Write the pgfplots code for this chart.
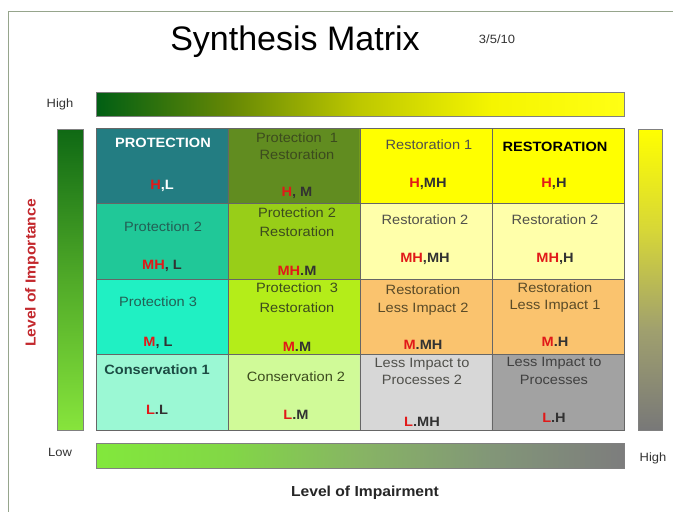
\documentclass[border=0pt]{standalone}
\usepackage{pgfplots}
\pgfplotsset{compat=1.18}
\usepackage{fontspec}
\setmainfont{Liberation Sans}
\newfontfamily\cellfont[FakeStretch=1.08]{Liberation Sans}
\newcommand{\fs}[1]{\fontsize{#1}{#1}\selectfont}
\definecolor{cred}{RGB}{225,25,25}
\definecolor{cdark}{RGB}{50,50,50}
\definecolor{tolive}{RGB}{60,75,30}
\definecolor{tteal}{RGB}{35,95,85}
\definecolor{tgray}{RGB}{80,80,75}
\definecolor{tbrown}{RGB}{90,75,40}
\definecolor{framec}{RGB}{150,165,140}
\definecolor{axred}{RGB}{195,40,45}
\newcommand{\code}[2]{\textcolor{cred}{#1}#2}
\begin{document}
\begin{tikzpicture}[x=1pt,y=1pt]
\fill[white] (0,0) rectangle (673,-512);
\draw[framec, line width=0.8pt] (8,-512) -- (8,-11) -- (673,-11);

\pgfplotsset{gbar/.style={scale only axis, anchor=south west,
  xmin=0, xmax=1, ymin=0, ymax=1, xtick=\empty, ytick=\empty,
  axis line style={draw=black!50, line width=0.6pt}, axis on top,
  point meta min=0, point meta max=1}}

% top gradient bar (horizontal)
\begin{axis}[gbar, at={(96pt,-116pt)}, width=528pt, height=24pt,
  colormap={topg}{rgb255=(0,95,20) rgb255=(100,135,5) rgb255=(190,200,0) rgb255=(245,245,0) rgb255=(255,255,20)}]
\addplot[patch, shader=interp, point meta=explicit] table[meta=c] {
x y c
0 0 0
1 0 1
1 1 1
0 0 0
1 1 1
0 1 0
};
\end{axis}

% bottom gradient bar (horizontal)
\begin{axis}[gbar, at={(96pt,-468pt)}, width=528pt, height=25pt,
  colormap={botg}{rgb255=(130,232,60) rgb255=(130,215,70) rgb255=(135,180,100) rgb255=(130,150,120) rgb255=(125,125,125)}]
\addplot[patch, shader=interp, point meta=explicit] table[meta=c] {
x y c
0 0 0
1 0 1
1 1 1
0 0 0
1 1 1
0 1 0
};
\end{axis}

% left gradient bar (vertical)
\begin{axis}[gbar, at={(57pt,-430pt)}, width=26pt, height=301pt,
  colormap={leftg}{rgb255=(135,228,60) rgb255=(80,170,40) rgb255=(15,105,20)}]
\addplot[patch, shader=interp, point meta=explicit] table[meta=c] {
x y c
0 0 0
1 0 0
1 1 1
0 0 0
1 1 1
0 1 1
};
\end{axis}

% right gradient bar (vertical)
\begin{axis}[gbar, at={(638pt,-430pt)}, width=24pt, height=301pt,
  colormap={rightg}{rgb255=(120,120,120) rgb255=(160,160,110) rgb255=(215,215,55) rgb255=(255,255,0)}]
\addplot[patch, shader=interp, point meta=explicit] table[meta=c] {
x y c
0 0 0
1 0 0
1 1 1
0 0 0
1 1 1
0 1 1
};
\end{axis}

% main matrix
\begin{axis}[scale only axis, anchor=south west, at={(96pt,-430pt)},
  width=528pt, height=302pt, xmin=0, xmax=4, ymin=0, ymax=4,
  xtick={1,2,3}, ytick={1,2,3}, xticklabels={}, yticklabels={},
  major tick length=0pt, grid=major,
  grid style={draw=black!60, line width=0.8pt},
  axis line style={draw=black!60, line width=0.8pt}, axis on top,
  colormap={cells}{
    rgb255=(35,125,130) rgb255=(97,140,32) rgb255=(255,255,0) rgb255=(255,255,0)
    rgb255=(32,200,152) rgb255=(152,206,24) rgb255=(255,255,170) rgb255=(255,255,170)
    rgb255=(32,240,195) rgb255=(180,237,25) rgb255=(250,195,110) rgb255=(250,195,110)
    rgb255=(155,248,212) rgb255=(208,250,152) rgb255=(215,215,215) rgb255=(162,162,162)}]
\addplot[matrix plot*, mesh/cols=4, point meta=explicit, colormap access=direct] table[meta=c] {
x y c
0.5 0.5 12
1.5 0.5 13
2.5 0.5 14
3.5 0.5 15
0.5 1.5 8
1.5 1.5 9
2.5 1.5 10
3.5 1.5 11
0.5 2.5 4
1.5 2.5 5
2.5 2.5 6
3.5 2.5 7
0.5 3.5 0
1.5 3.5 1
2.5 3.5 2
3.5 3.5 3
};
\end{axis}

\tikzset{ctext/.style={anchor=base, yshift=-4.8pt, inner sep=0pt, font=\cellfont\fs{13.5}},
         btext/.style={anchor=base, yshift=-4.8pt, inner sep=0pt, font=\cellfont\bfseries\fs{13.5}}}

% row 1
\node[btext, text=white] at (163,-143) {PROTECTION};
\node[btext, text=white] at (162,-185) {\code{H}{,L}};
\node[ctext, text=tolive] at (297,-138) {Protection\ \ 1};
\node[ctext, text=tolive] at (297,-155) {Restoration};
\node[btext, text=cdark] at (297,-192) {\code{H}{, M}};
\node[ctext, text=tgray] at (429,-145) {Restoration 1};
\node[btext, text=cdark] at (428,-183) {\code{H}{,MH}};
\node[btext, text=black] at (555,-147) {RESTORATION};
\node[btext, text=cdark] at (554,-183) {\code{H}{,H}};
% row 2
\node[ctext, text=tteal] at (163,-227) {Protection 2};
\node[btext, text=cdark] at (162,-265) {\code{MH}{, L}};
\node[ctext, text=tolive] at (297,-213) {Protection 2};
\node[ctext, text=tolive] at (297,-232) {Restoration};
\node[btext, text=cdark] at (297,-271) {\code{MH}{.M}};
\node[ctext, text=tgray] at (425,-220) {Restoration 2};
\node[btext, text=cdark] at (425,-258) {\code{MH}{,MH}};
\node[ctext, text=tgray] at (555,-220) {Restoration 2};
\node[btext, text=cdark] at (555,-258) {\code{MH}{,H}};
% row 3
\node[ctext, text=tteal] at (158,-302) {Protection 3};
\node[btext, text=cdark] at (158,-342) {\code{M}{, L}};
\node[ctext, text=tolive] at (297,-288) {Protection\ \ 3};
\node[ctext, text=tolive] at (297,-308) {Restoration};
\node[btext, text=cdark] at (297,-347) {\code{M}{.M}};
\node[ctext, text=tbrown] at (423,-290) {Restoration};
\node[ctext, text=tbrown] at (423,-308) {Less Impact 2};
\node[btext, text=cdark] at (423,-345) {\code{M}{.MH}};
\node[ctext, text=tbrown] at (555,-288) {Restoration};
\node[ctext, text=tbrown] at (555,-305) {Less Impact 1};
\node[btext, text=cdark] at (555,-342) {\code{M}{.H}};
% row 4
\node[btext, text=tteal!80!black] at (157,-370) {Conservation 1};
\node[btext, text=cdark] at (157,-410) {\code{L}{.L}};
\node[ctext, text=tolive] at (296,-377) {Conservation 2};
\node[btext, text=cdark] at (296,-415) {\code{L}{.M}};
\node[ctext, text=tgray] at (422,-363) {Less Impact to};
\node[ctext, text=tgray] at (422,-380) {Processes 2};
\node[btext, text=cdark] at (422,-422) {\code{L}{.MH}};
\node[ctext, text=black!75] at (554,-362) {Less Impact to};
\node[ctext, text=black!75] at (554,-380) {Processes};
\node[btext, text=cdark] at (554,-418) {\code{L}{.H}};

% titles and labels
\node[anchor=base, inner sep=0pt, font=\fs{34}] at (295,-50) {Synthesis Matrix};
\node[anchor=base, inner sep=0pt, font=\cellfont\fs{12}, text=black!80] at (497,-43) {3/5/10};
\node[anchor=base, inner sep=0pt, font=\cellfont\fs{12}, text=black!80] at (60,-107) {High};
\node[anchor=base, inner sep=0pt, font=\cellfont\fs{12}, text=black!80] at (60,-456) {Low};
\node[anchor=base, inner sep=0pt, font=\cellfont\fs{12}, text=black!80] at (653,-461) {High};
\node[anchor=base, inner sep=0pt, font=\cellfont\bfseries\fs{14.5}, text=black!85] at (365,-496) {Level of Impairment};
\node[rotate=90, inner sep=0pt, font=\cellfont\bfseries\fs{14.5}, text=axred] at (32,-273) {Level of Importance};

\pgfresetboundingbox
\useasboundingbox (0,0) rectangle (673,-512);
\end{tikzpicture}
\end{document}
